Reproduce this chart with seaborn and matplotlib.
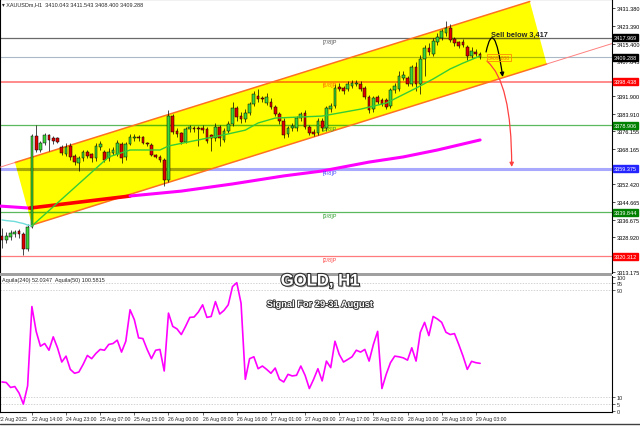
import matplotlib
matplotlib.use("Agg")
import matplotlib.pyplot as plt
import matplotlib.patheffects as pe
import matplotlib.transforms as mtrans
from matplotlib.colors import to_rgb
from matplotlib.patches import Polygon, Rectangle
from matplotlib.lines import Line2D
import seaborn as sb
import pandas as pd
import numpy as np

# ---- XAUUSD H1 candles ----
opens = [3329.5, 3327.5, 3329, 3330, 3331.5, 3330, 3323.5, 3333.5, 3374, 3368,
         3371, 3374.3, 3373, 3373, 3369, 3366, 3369.5, 3365, 3362, 3364,
         3367, 3366, 3364, 3369, 3367, 3364, 3366.5, 3366, 3370.5, 3364.5,
         3370.5, 3373, 3373.8, 3373.5, 3371, 3370, 3365.5, 3364.8, 3363.5, 3354.5,
         3383, 3376.5, 3375.5, 3371.5, 3377, 3377.8, 3377.5, 3377.8, 3377, 3374.5,
         3373, 3378, 3372.5, 3376.5, 3379.5, 3386.5, 3383, 3381.5, 3384.5, 3388.5,
         3392, 3391, 3389, 3389.5, 3387, 3384, 3381, 3375, 3377.5, 3377.5,
         3382, 3384.5, 3378, 3376, 3375.5, 3381, 3377.5, 3386, 3387.5, 3396,
         3395.5, 3395, 3396.5, 3397.2, 3397.5, 3395.5, 3391.5, 3386, 3391.5, 3390,
         3390, 3387.5, 3394.5, 3395, 3400, 3400, 3397.5, 3405, 3397.5, 3408.5,
         3413.5, 3411, 3416, 3418, 3420, 3422.5, 3417.5, 3416, 3416, 3414,
         3410, 3411.5, 3411]
highs = [3333, 3331, 3332, 3332, 3332.5, 3331, 3334.5, 3375, 3379, 3372,
         3375.5, 3375, 3374, 3373.5, 3370, 3371, 3371, 3366, 3365, 3368,
         3368, 3366.5, 3371, 3372, 3368, 3368.5, 3369, 3372.5, 3371.5, 3371.5,
         3375, 3375, 3374.5, 3374, 3371.5, 3371, 3366, 3365.5, 3364, 3385.5,
         3384, 3377.5, 3376, 3378, 3379, 3378.5, 3378.5, 3379, 3378, 3375,
         3380, 3379, 3377.5, 3381, 3389.5, 3387.5, 3385, 3386, 3389.5, 3394,
         3395, 3392, 3393.5, 3391, 3388, 3385, 3382, 3378.5, 3380, 3383,
         3385, 3385.5, 3379, 3377, 3382, 3382, 3387.5, 3389, 3397.5, 3398,
         3396.5, 3398.5, 3399, 3399, 3398.5, 3396.5, 3392.5, 3392, 3392.5, 3391,
         3391, 3395.5, 3398, 3403, 3403, 3401, 3406, 3407, 3410.5, 3415,
         3415.5, 3418, 3420, 3422, 3425.5, 3424, 3418.5, 3416.5, 3417.5, 3415,
         3414, 3413, 3411.5]
lows = [3324, 3326, 3327.5, 3329, 3328.5, 3321, 3322.5, 3333, 3367, 3367,
        3370, 3367.5, 3370.5, 3371, 3365.5, 3365, 3363.5, 3361, 3358.5, 3363,
        3364, 3362.5, 3363, 3368, 3362.5, 3363, 3365.5, 3365, 3362, 3363.5,
        3370, 3372, 3372, 3370.5, 3369.5, 3365, 3364, 3362.5, 3351.5, 3353.5,
        3375, 3373.5, 3370.5, 3371, 3376, 3376, 3369.5, 3375.5, 3371, 3367.5,
        3372, 3369.5, 3371.5, 3375.5, 3378.5, 3381, 3380, 3380.5, 3383.5, 3387.5,
        3389.5, 3389.5, 3388, 3386, 3383, 3379.5, 3373, 3373.5, 3376.5, 3376.5,
        3381, 3377, 3374.5, 3374, 3374.5, 3376.5, 3376.5, 3385, 3386.5, 3394,
        3393, 3394, 3395.5, 3396.5, 3394, 3390.5, 3384.5, 3385, 3388.5, 3387.5,
        3386, 3386.5, 3393.5, 3394, 3399, 3396.5, 3396.5, 3394, 3393, 3401,
        3410.5, 3410, 3415, 3417, 3419, 3416, 3414.5, 3413.5, 3414, 3408,
        3409, 3410, 3408.5]
closes = [3327.5, 3329.5, 3330.5, 3331, 3330, 3323.5, 3333.5, 3374.2, 3368, 3371,
          3374.5, 3372.5, 3372, 3371.5, 3366.5, 3369, 3364.5, 3362.5, 3364, 3367,
          3365, 3364, 3369.5, 3370.5, 3363.5, 3367, 3368, 3371, 3364, 3370.5,
          3373.5, 3373.8, 3373, 3371, 3370.5, 3365.5, 3364.8, 3363.2, 3354.5, 3383,
          3376, 3375, 3371.5, 3377, 3378, 3377, 3377, 3376.8, 3372, 3373,
          3378, 3373, 3376.5, 3379.5, 3386.5, 3382.5, 3381.5, 3384.5, 3388.5, 3393,
          3390.5, 3390.5, 3391.5, 3387, 3384, 3381, 3374.5, 3377.5, 3378.5, 3382,
          3384, 3378, 3375.5, 3375, 3381, 3377.5, 3386.5, 3387.5, 3395.5, 3395,
          3394, 3397.3, 3398, 3398, 3395, 3391.5, 3385.5, 3391, 3389.5, 3388.5,
          3387, 3394.5, 3396.5, 3401, 3401.5, 3397.5, 3405, 3397.5, 3408.5, 3413.5,
          3411.5, 3416.5, 3418.5, 3421, 3422.5, 3417, 3415.5, 3414.5, 3415, 3410,
          3412, 3411, 3409.3]

# moving averages (bar index, price)
ma_prev_idx = [0, 1, 2, 3, 4, 5, 6, 7]
ma_prev_val = [3336.5, 3336.2, 3336.0, 3335.8, 3335.3, 3334.9, 3334.2, 3333.8]
ma_fast_idx = [7, 25, 30, 37, 39, 47, 53, 57, 60, 64, 75, 84, 90, 97, 101, 105, 108, 112]
ma_fast_val = [3333.8, 3364.7, 3367.8, 3367.8, 3369.6, 3372.7, 3375.0, 3376.7, 3379.9,
               3382.1, 3383.0, 3386.1, 3388.8, 3395.5, 3399.6, 3404.1, 3406.7, 3409.9]
ma_slow_idx = [-0.5, 6.5, 30, 42, 54, 66, 75, 86, 94, 102, 112]
ma_slow_val = [3342.7, 3341.8, 3347.2, 3349.4, 3352.6, 3356.2, 3358.4, 3362.4,
               3364.7, 3367.8, 3372.3]

# oscillator in the lower window
osc_val = [21.3, 20.9, 17.2, 17.9, 13, 4.8, 18.4, 77.6, 59.1, 48,
           50, 45, 55, 46.8, 36.2, 40.6, 30.7, 27.8, 28.7, 34.4,
           41.1, 38.7, 42.6, 45.6, 45, 49.3, 50, 52.5, 43.6, 51.7,
           75.2, 67.8, 54.2, 53.7, 45.6, 38.7, 45, 45.6, 29.5, 72.7,
           62.8, 60.9, 56.7, 62.8, 69.5, 69.8, 73.5, 78.9, 69.5, 70.2,
           81.3, 72, 74.7, 78.9, 92.5, 95.4, 80.1, 23.3, 38.7, 40.1,
           31.2, 33.2, 30.7, 27.8, 31.7, 23.3, 21.3, 27, 25.8, 26.3,
           33.2, 26.3, 16.4, 23.3, 31.2, 22.1, 36.9, 32, 51.7, 41.9,
           36.2, 38.1, 40.1, 45, 43.6, 45.6, 36.9, 49.3, 59.1, 16.4,
           27, 35.7, 40.6, 40.1, 39.3, 37.6, 46.8, 36.9, 58.4, 65.8,
           55.9, 70.2, 68.3, 65.8, 58.4, 56.7, 57.4, 49.3, 40.6, 30.7,
           36.7, 35.7, 35.2]

# Murrey levels
levels = [3417.969, 3398.438, 3378.906, 3359.375, 3339.844, 3320.312]
level_names = ['[7/8]P', '[6/8]P', '[5/8]P', '[4/8]P', '[3/8]P', '[2/8]P']
level_colors = ['#6a6a6a', '#ff8a8a', '#5cb85c', '#a8a8ff', '#5cb85c', '#ff7a7a']
level_widths = [0.9, 1.4, 0.9, 2.2, 0.9, 0.9]
level_text_colors = ['#555555', '#ff6a00', '#2e9e2e', '#4848ff', '#2e9e2e', '#ff4a4a']
level_box_colors = ['#000000', '#ff0000', '#008000', '#2424ff', '#008000', '#ff0000']
bid_price = 3409.288

price_ticks = [3431.380, 3423.390, 3415.400, 3407.645, 3399.655, 3391.900, 3383.910,
               3376.155, 3368.165, 3360.175, 3352.420, 3344.665, 3336.675, 3328.920,
               3320.930, 3313.175]
hidden_ticks = [3360.175, 3320.930]   # covered by level boxes on the chart
osc_ticks = [0, 5, 10, 90, 95, 100]
osc_dashes = [5, 10, 90, 95]

time_tick_idx = [7, 15, 23, 31, 39, 47, 55, 63, 71, 79, 87, 95, 103, 111]
time_tick_labels = ['22 Aug 14:00', '24 Aug 23:00', '25 Aug 07:00', '25 Aug 15:00',
                    '26 Aug 00:00', '26 Aug 08:00', '26 Aug 16:00', '27 Aug 01:00',
                    '27 Aug 09:00', '27 Aug 17:00', '28 Aug 02:00', '28 Aug 10:00',
                    '28 Aug 18:00', '29 Aug 03:00']

# channel anchors (bar index, price)
chan_upper = [(3.04, 3362.2), (123.65, 3434.3)]
chan_lower = [(7.03, 3334.2), (127.6, 3406.3)]

# signal arrows: start, end
black_arrow = [(113.4, 3411.7), (117.3, 3400.5)]
red_arrow = [(113.6, 3407.6), (119.4, 3360.2)]

X_MIN, X_MAX = -0.47, 142.9
Y_MIN, Y_MAX = 3312.73, 3435.41

sb.set_style("white")
plt.rcParams['font.family'] = ['Liberation Sans', 'DejaVu Sans']

fig = plt.figure(figsize=(6.4, 4.27), dpi=100)
ax = fig.add_axes([0, 0.3583, 0.95625, 0.6417])
ax2 = fig.add_axes([0, 0.0328, 0.95625, 0.3185])

# channel fill
poly = Polygon([chan_upper[0], chan_upper[1], chan_lower[1], chan_lower[0]],
               closed=True, facecolor='#ffff00', edgecolor='none', zorder=1)
ax.add_patch(poly)

# horizontal levels (multiplied look inside the yellow channel)
def mult_yellow(c):
    r, g, b = to_rgb(c)
    return (r, g, 0)

for lv, c, w in zip(levels + [bid_price], level_colors + ['#aab8c8'], level_widths + [0.8]):
    ax.axhline(lv, color=c, lw=w, zorder=2)
    ln = ax.axhline(lv, color=mult_yellow(c), lw=w, zorder=2.5)
    ln.set_clip_path(poly)

for lv, name, tc in zip(levels, level_names, level_text_colors):
    ax.annotate(name, (75.2, lv), xytext=(0, -0.6), textcoords='offset points',
                ha='left', va='top', fontsize=4, color=tc, zorder=7)

# channel borders
slope = (chan_lower[1][1] - chan_lower[0][1]) / (chan_lower[1][0] - chan_lower[0][0])
ax.plot([chan_upper[0][0], chan_upper[1][0]], [chan_upper[0][1], chan_upper[1][1]],
        color='#ff7020', lw=1.1, zorder=3)
ax.plot([chan_lower[0][0], chan_lower[1][0]], [chan_lower[0][1], chan_lower[1][1]],
        color='#ff7020', lw=1.1, zorder=3)
ax.plot([chan_lower[1][0], X_MAX],
        [chan_lower[1][1], chan_lower[1][1] + slope * (X_MAX - chan_lower[1][0])],
        color='#ff8080', lw=0.7, zorder=3)
ax.plot([X_MIN, chan_upper[0][0]],
        [chan_upper[0][1] - slope * (chan_upper[0][0] - X_MIN), chan_upper[0][1]],
        color='#ff8080', lw=0.7, zorder=3)

# slow MA: magenta with a red stretch
sb.lineplot(x=ma_slow_idx[:2], y=ma_slow_val[:2], ax=ax, color='#ff00ff', lw=2.2, zorder=4)
sb.lineplot(x=ma_slow_idx[1:3], y=ma_slow_val[1:3], ax=ax, color='#ff0000', lw=2.6, zorder=4)
sb.lineplot(x=ma_slow_idx[2:], y=ma_slow_val[2:], ax=ax, color='#ff00ff', lw=2.2, zorder=4)

# candles
df = pd.DataFrame({'o': opens, 'h': highs, 'l': lows, 'c': closes})
df['i'] = np.arange(len(df))
up = df['c'] >= df['o']
body = (df['c'] - df['o']).where((df['c'] - df['o']).abs() > 0.3, 0.3)
ax.vlines(df['i'], df['l'], df['h'], color='black', lw=0.5, zorder=5)
ax.bar(df['i'], body, bottom=df['o'], width=0.64,
       color=np.where(up, '#3ad63a', '#e00000'), edgecolor='black', linewidth=0.35, zorder=6)

# fast MA
sb.lineplot(x=ma_prev_idx, y=ma_prev_val, ax=ax, color='#70dcdc', lw=1.0, zorder=6.5)
sb.lineplot(x=ma_fast_idx, y=ma_fast_val, ax=ax, color='#36cc36', lw=1.0, zorder=6.5)

# signal arrows and text
ax.annotate('', xy=black_arrow[1], xytext=black_arrow[0],
            arrowprops=dict(arrowstyle='-|>', color='black', lw=0.9, mutation_scale=6,
                            shrinkA=0, shrinkB=0,
                            connectionstyle='angle3,angleA=78,angleB=98'), zorder=8)
ax.annotate('', xy=red_arrow[1], xytext=red_arrow[0],
            arrowprops=dict(arrowstyle='-|>', color='#ff4040', lw=0.9, mutation_scale=6,
                            shrinkA=0, shrinkB=0,
                            connectionstyle='angle3,angleA=-40,angleB=90'), zorder=8)
ax.text(121.3, 3419.6, 'Sell below 3,417', fontsize=5.3, fontweight='bold',
        ha='center', va='center', zorder=8)
ax.text(113.8, 3409.4, '3409.288', fontsize=3.8, color='#ff6a00', ha='left', va='center',
        bbox=dict(boxstyle='square,pad=0.2', fc='none', ec='#ff8c00', lw=0.6), zorder=8)

ax.set_xlim(X_MIN, X_MAX)
ax.set_ylim(Y_MIN, Y_MAX)
ax.set_yticks(price_ticks)
ax.set_yticklabels(['' if t in hidden_ticks else f'{t:.3f}' for t in price_ticks])
ax.yaxis.tick_right()
ax.tick_params(axis='y', right=True, left=False, length=2, width=0.5, pad=1.2,
               labelsize=4, colors='black')
ax.tick_params(axis='x', bottom=False, labelbottom=False)
ax.set_xlabel('')
ax.set_ylabel('')
for s in ['left', 'right', 'top']:
    ax.spines[s].set_color('black')
    ax.spines[s].set_linewidth(0.8)
ax.spines['bottom'].set_visible(False)

trans = mtrans.blended_transform_factory(ax.transAxes, ax.transData)
for lv, bc in zip(levels + [bid_price], level_box_colors + ['#000000']):
    ax.text(1.003, lv, f'{lv:.3f}', transform=trans, fontsize=4, color='white',
            ha='left', va='center', zorder=10,
            bbox=dict(boxstyle='square,pad=0.18', fc=bc, ec=bc))

fig.text(2 / 640, 1 - 5 / 427, '\u25be XAUUSDm,H1  3410.043 3411.543 3408.400 3409.288',
         fontsize=4, ha='left', va='center')

# ---- lower window ----
for v in osc_dashes:
    ax2.axhline(v, color='#c0c0c0', ls=(0, (2, 2)), lw=0.5, zorder=1)
sb.lineplot(x=np.arange(len(osc_val)), y=osc_val, ax=ax2, color='#ff00ff', lw=1.2, zorder=3)
ax2.set_xlim(X_MIN, X_MAX)
ax2.set_ylim(-1.1, 100.4)
ax2.set_yticks(osc_ticks)
ax2.set_yticklabels([str(t) for t in osc_ticks])
ax2.yaxis.tick_right()
ax2.tick_params(axis='y', right=True, left=False, length=2, width=0.5, pad=1.2, labelsize=4)
ax2.set_xticks(time_tick_idx)
ax2.set_xticklabels(time_tick_labels)
plt.setp(ax2.get_xticklabels(), ha='left')
ax2.tick_params(axis='x', bottom=True, length=2, width=0.5, pad=0.6, labelsize=3.7)
ax2.set_xlabel('')
ax2.set_ylabel('')
for s in ['left', 'right', 'bottom']:
    ax2.spines[s].set_color('black')
    ax2.spines[s].set_linewidth(0.8)
ax2.spines['top'].set_visible(False)
ax2.annotate('22 Aug 2025', xy=(-1, 0),
             xycoords=mtrans.blended_transform_factory(ax2.transData, ax2.transAxes),
             xytext=(0, -2.6), textcoords='offset points', ha='left', va='top',
             fontsize=3.7, annotation_clip=False)

fig.text(2 / 640, 1 - 280.5 / 427, 'Aquila(240) 52.0347  Aquila(50) 100.5815',
         fontsize=4, ha='left', va='center', zorder=10)

fx = [pe.SimplePatchShadow(offset=(1.2, -1.2), shadow_rgbFace='#8a8a8a', alpha=0.9),
      pe.Stroke(linewidth=1.6, foreground='#303030'), pe.Normal()]
fig.text(320 / 640, 1 - 282 / 427, 'GOLD, H1', fontsize=12, fontweight='bold',
         color='white', ha='center', va='center', path_effects=fx, zorder=20)
fx2 = [pe.SimplePatchShadow(offset=(0.8, -0.8), shadow_rgbFace='#8a8a8a', alpha=0.9),
       pe.Stroke(linewidth=1.2, foreground='#303030'), pe.Normal()]
fig.text(320 / 640, 1 - 305.5 / 427, 'Signal For 29-31 August', fontsize=6.7,
         fontweight='bold', color='white', ha='center', va='center',
         path_effects=fx2, zorder=20)

# panel separator and bottom frame
fig.patches.append(Rectangle((0, 0.3513), 0.95625, 0.0070, transform=fig.transFigure,
                             facecolor='#a0a0a0', edgecolor='none', zorder=5))
fig.lines.append(Line2D([0, 1], [0.0047, 0.0047], transform=fig.transFigure,
                        color='#404040', lw=1))

fig.savefig('out.png', dpi=100)
